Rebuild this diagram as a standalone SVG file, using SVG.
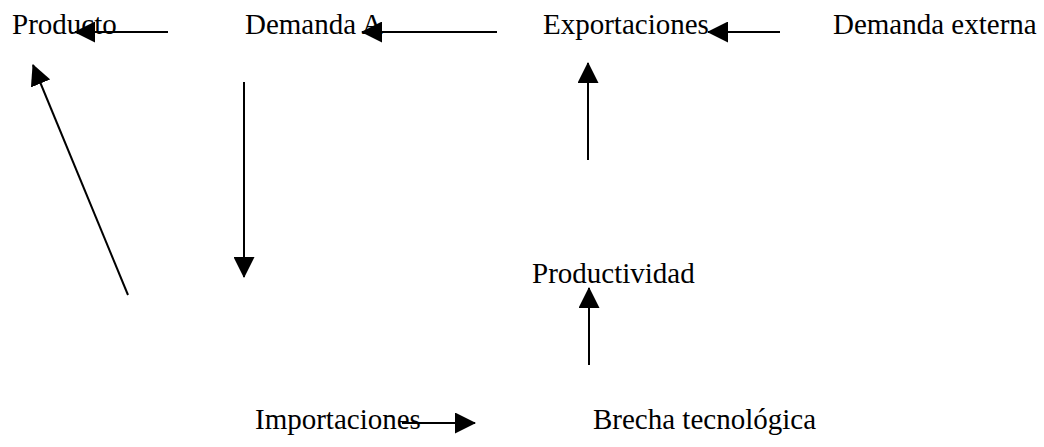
<svg xmlns="http://www.w3.org/2000/svg" width="1044" height="447" viewBox="0 0 1044 447">
<style>
text{font-family:"Liberation Serif","Times New Roman",serif;font-size:29px;fill:#000}
.c line{stroke:#000;stroke-width:2;fill:none;marker-end:url(#ah)}
</style>
<defs>
<marker id="ah" markerUnits="userSpaceOnUse" markerWidth="21" markerHeight="21" refX="20" refY="10.5" orient="auto">
<path d="M0,0 L21,10.5 L0,21 z" fill="#000"/>
</marker>
</defs>
<rect width="1044" height="447" fill="#fff"/>
<g id="producto"><text x="12" y="34">Producto</text></g>
<g id="demanda-a"><text x="245" y="34">Demanda A</text></g>
<g id="exportaciones"><text x="543" y="34">Exportaciones</text></g>
<g id="demanda-externa"><text x="833" y="34">Demanda externa</text></g>
<g id="productividad"><text x="532" y="283">Productividad</text></g>
<g id="importaciones"><text x="255" y="429">Importaciones</text></g>
<g id="brecha"><text x="593" y="429">Brecha tecnológica</text></g>
<g class="c" id="connectors">
<line x1="168" y1="32" x2="75" y2="32"/>
<line x1="497" y1="32" x2="362" y2="32"/>
<line x1="780" y1="32" x2="708" y2="32"/>
<line x1="128" y1="295" x2="33" y2="65"/>
<line x1="244" y1="82" x2="244" y2="277"/>
<line x1="588" y1="160" x2="588" y2="63"/>
<line x1="589" y1="365" x2="589" y2="288"/>
<line x1="402" y1="423" x2="475" y2="423"/>
</g>
</svg>
